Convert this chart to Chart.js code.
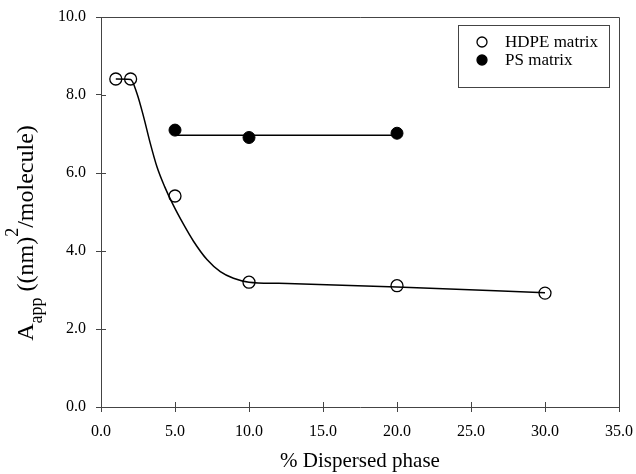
<!DOCTYPE html>
<html>
<head>
<meta charset="utf-8">
<script src="https://cdn.jsdelivr.net/npm/chart.js@4.4.0/dist/chart.umd.min.js"></script>
<style>
  html, body { margin: 0; padding: 0; background: #fff; }
  #wrap { width: 636px; height: 474px; }
</style>
</head>
<body>
<div id="wrap"><canvas id="chart" width="636" height="474"></canvas></div>
<script>
// measured points
const hdpeX = [1, 2, 5, 10, 20, 30];
const hdpeY = [8.41, 8.41, 5.41, 3.2, 3.11, 2.92];
const psX = [5, 10, 20];
const psY = [7.1, 6.91, 7.02];

// fitted curves
const hdpeFitX = [1, 2, 2.43, 2.88, 3.33, 3.78, 4.3, 4.85, 5.58, 6.25, 7.16, 8.06, 8.95, 10, 12, 20, 30];
const hdpeFitY = [8.41, 8.4, 8.04, 7.44, 6.76, 6.16, 5.65, 5.2, 4.68, 4.25, 3.78, 3.47, 3.3, 3.2, 3.17, 3.08, 2.93];
const psFitX = [5, 20];
const psFitY = [6.97, 6.97];

const seriesNames = ['HDPE matrix', 'PS matrix'];
const xTitle = '% Dispersed phase';

const toXY = (xs, ys) => xs.map((x, i) => ({ x: x, y: ys[i] }));
const FONT = "'Liberation Serif', 'Times New Roman', serif";
const INK = '#000';
const AXIS = '#444';

// inner half of the tick marks + top/right frame
const framePlugin = {
  id: 'frame',
  afterDraw(chart) {
    const { ctx, chartArea: a, scales } = chart;
    ctx.save();
    ctx.strokeStyle = AXIS;
    ctx.lineWidth = 1;
    ctx.beginPath();
    ctx.moveTo(a.left, a.top + 0.5);
    ctx.lineTo(a.right + 0.5, a.top + 0.5);
    ctx.lineTo(a.right + 0.5, a.bottom);
    scales.x.ticks.forEach(t => {
      const px = Math.round(scales.x.getPixelForValue(t.value)) + 0.5;
      ctx.moveTo(px, a.bottom);
      ctx.lineTo(px, a.bottom - 5);
    });
    scales.y.ticks.forEach(t => {
      const py = Math.round(scales.y.getPixelForValue(t.value)) + 0.5;
      ctx.moveTo(a.left, py);
      ctx.lineTo(a.left + 5, py);
    });
    ctx.stroke();
    ctx.restore();
  }
};

// y title with subscript and superscript
const yTitlePlugin = {
  id: 'yTitle',
  afterDraw(chart) {
    const { ctx } = chart;
    const parts = [
      { t: 'A', size: 24, dy: 0 },
      { t: 'app', size: 18, dy: 9 },
      { t: ' ((nm)', size: 24, dy: 0 },
      { t: '2', size: 18, dy: -15 },
      { t: '/molecule)', size: 24, dy: 0 }
    ];
    ctx.save();
    ctx.fillStyle = INK;
    ctx.textBaseline = 'alphabetic';
    ctx.textAlign = 'left';
    let total = 0;
    parts.forEach(p => { ctx.font = p.size + 'px ' + FONT; p.w = ctx.measureText(p.t).width; total += p.w; });
    ctx.translate(33, 233);
    ctx.rotate(-Math.PI / 2);
    let x = -total / 2;
    parts.forEach(p => {
      ctx.font = p.size + 'px ' + FONT;
      ctx.fillText(p.t, x, p.dy);
      x += p.w;
    });
    ctx.restore();
  }
};

// boxed legend
const legendPlugin = {
  id: 'boxLegend',
  afterDraw(chart) {
    const { ctx } = chart;
    ctx.save();
    ctx.strokeStyle = AXIS;
    ctx.lineWidth = 1;
    ctx.strokeRect(458.5, 25.5, 151, 62);
    const rows = [
      { name: seriesNames[0], y: 42, fill: '#fff' },
      { name: seriesNames[1], y: 60, fill: INK }
    ];
    ctx.font = '17px ' + FONT;
    ctx.textBaseline = 'middle';
    rows.forEach(r => {
      ctx.beginPath();
      ctx.arc(482, r.y, 5, 0, Math.PI * 2);
      ctx.fillStyle = r.fill;
      ctx.fill();
      ctx.strokeStyle = INK;
      ctx.lineWidth = 1.3;
      ctx.stroke();
      ctx.fillStyle = INK;
      ctx.fillText(r.name, 505, r.y + 1);
    });
    ctx.restore();
  }
};

// keep the plot box where the picture has it
function noPad(s) { s.paddingLeft = 0; s.paddingRight = 0; s.paddingTop = 0; s.paddingBottom = 0; }

new Chart(document.getElementById('chart'), {
  type: 'scatter',
  data: {
    datasets: [
      {
        label: 'HDPE fit',
        data: toXY(hdpeFitX, hdpeFitY),
        showLine: true,
        pointRadius: 0,
        borderColor: INK,
        borderWidth: 1.5,
        cubicInterpolationMode: 'monotone'
      },
      {
        label: 'PS fit',
        data: toXY(psFitX, psFitY),
        showLine: true,
        pointRadius: 0,
        borderColor: INK,
        borderWidth: 1.5
      },
      {
        label: seriesNames[0],
        data: toXY(hdpeX, hdpeY),
        pointRadius: 6,
        pointBackgroundColor: 'rgba(0,0,0,0)',
        pointBorderColor: INK,
        pointBorderWidth: 1.3
      },
      {
        label: seriesNames[1],
        data: toXY(psX, psY),
        pointRadius: 6,
        pointBackgroundColor: INK,
        pointBorderColor: INK,
        pointBorderWidth: 1
      }
    ]
  },
  options: {
    responsive: false,
    animation: false,
    layout: { padding: { left: 0, right: 17, top: 17, bottom: 0 } },
    plugins: { legend: { display: false }, tooltip: { enabled: false } },
    scales: {
      x: {
        type: 'linear',
        min: 0,
        max: 35,
        afterFit(s) { s.height = 67; noPad(s); },
        ticks: {
          stepSize: 5,
          color: INK,
          padding: 10,
          font: { family: FONT, size: 16 },
          callback: v => v.toFixed(1)
        },
        grid: { drawOnChartArea: false, tickLength: 5, color: AXIS },
        border: { color: AXIS, width: 1 },
        title: {
          display: true,
          text: xTitle,
          color: INK,
          font: { family: FONT, size: 21, lineHeight: 1.2 },
          padding: { top: 0, bottom: 0 }
        }
      },
      y: {
        min: 0,
        max: 10,
        afterFit(s) { s.width = 101; noPad(s); },
        ticks: {
          stepSize: 2,
          color: INK,
          padding: 10,
          font: { family: FONT, size: 16 },
          callback: v => v.toFixed(1)
        },
        grid: { drawOnChartArea: false, tickLength: 5, color: AXIS },
        border: { color: AXIS, width: 1 }
      }
    }
  },
  plugins: [framePlugin, yTitlePlugin, legendPlugin]
});
</script>
</body>
</html>
